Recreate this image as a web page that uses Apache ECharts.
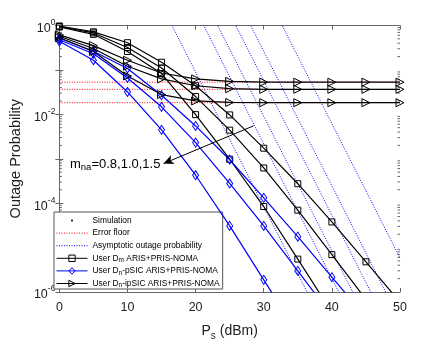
<!DOCTYPE html>
<html>
<head>
<meta charset="utf-8">
<script src="https://cdn.jsdelivr.net/npm/echarts@6/dist/echarts.min.js"></script>
<style>
  html, body { margin: 0; padding: 0; background: #fff; }
  #main { width: 443px; height: 346px; }
</style>
</head>
<body>
<div id="main"></div>
<script>
// transmit power P_s (dBm)
var ps = [0, 5, 10, 15, 20, 25, 30, 35, 40, 45, 50];

// user D_m, ARIS+PRIS-NOMA (m_na = 0.8, 1.0, 1.5)
var dm08 = [0.975, 0.72, 0.41, 0.149, 0.044, 0.0097, 0.00173, 2.74e-4, 3.78e-5, 4.78e-6, 5.9e-7];
var dm10 = [0.95, 0.68, 0.319, 0.11, 0.0251, 0.0044, 6.2e-4, 6.95e-5, 6.95e-6, 6.8e-7, 6.6e-8];
var dm15 = [0.927, 0.633, 0.26, 0.083, 0.00984, 9.75e-4, 8.4e-5, 5.5e-6, 3.5e-7, 2e-8, 1e-9];

// user D_n with pSIC
var dnp08 = [0.522, 0.264, 0.108, 0.0269, 0.00548, 9.5e-4, 1.32e-4, 1.76e-5, 2.16e-6, 2.7e-7, 3e-8];
var dnp10 = [0.479, 0.232, 0.066, 0.01476, 0.00231, 2.78e-4, 3.08e-5, 2.98e-6, 2.9e-7, 2.8e-8, 2.7e-9];
var dnp15 = [0.44, 0.165, 0.0319, 0.00448, 4.26e-4, 3.08e-5, 1.88e-6, 1.15e-7, 7e-9, 4e-10, 2.5e-11];

// user D_n with ipSIC
var dni08 = [0.617, 0.353, 0.165, 0.0851, 0.0628, 0.0553, 0.0531, 0.053, 0.053, 0.053, 0.053];
var dni10 = [0.572, 0.303, 0.121, 0.0628, 0.044, 0.0378, 0.0365, 0.0365, 0.0365, 0.0365, 0.0365];
var dni15 = [0.53, 0.26, 0.0731, 0.0279, 0.02, 0.0185, 0.0183, 0.0183, 0.0183, 0.0183, 0.0183];

// error floors of the ipSIC curves
var floorX = [0, 50];
var floors = [0.053, 0.0365, 0.0183];

// asymptotic outage probability, straight lines given at two powers
var asymX = [15, 50];
var asym = [
  [2.9, 7.4e-11],
  [75, 1.9e-9],
  [312, 7.9e-9],
  [1990, 5e-8],
  [9160, 2.3e-7],
  [2.29e5, 5.8e-6]
];

// annotation arrow, from / to (P_s, probability)
var arrowFrom = [28.5, 5.5e-3];
var arrowTo = [15.3, 7.8e-4];

var FONT = "'Liberation Sans', Arial, Helvetica, sans-serif";
var AXIS = "#666";
var TXT = "#222";

function pairs(xs, ys) {
  return xs.map(function (x, i) { return [x, ys[i]]; });
}

var chart = echarts.init(document.getElementById("main"), null, { renderer: "canvas" });

var series = [];

floors.forEach(function (f) {
  series.push({
    name: "Error floor",
    type: "line",
    data: pairs(floorX, [f, f]),
    symbol: "none",
    lineStyle: { color: "#ff0000", width: 1, type: [1, 1.5] },
    itemStyle: { color: "#ff0000" },
    z: 2
  });
});

asym.forEach(function (a) {
  series.push({
    name: "Asymptotic outage probability",
    type: "line",
    data: pairs(asymX, a),
    symbol: "none",
    lineStyle: { color: "#0000ff", width: 1, type: [1, 1.5] },
    itemStyle: { color: "#0000ff" },
    z: 2
  });
});

[dm08, dm10, dm15].forEach(function (d) {
  series.push({
    name: "dm",
    type: "line",
    data: pairs(ps, d),
    symbol: "rect",
    symbolSize: 6,
    lineStyle: { color: "#000", width: 1.2 },
    itemStyle: { color: "rgba(0,0,0,0)", borderColor: "#000", borderWidth: 1 },
    z: 4
  });
});

[dnp08, dnp10, dnp15].forEach(function (d) {
  series.push({
    name: "dnp",
    type: "line",
    data: pairs(ps, d),
    symbol: "diamond",
    symbolSize: [6, 9],
    lineStyle: { color: "#0000ff", width: 1.2 },
    itemStyle: { color: "rgba(0,0,0,0)", borderColor: "#0000ff", borderWidth: 1 },
    z: 4
  });
});

[dni08, dni10, dni15].forEach(function (d) {
  series.push({
    name: "dni",
    type: "line",
    data: pairs(ps, d),
    symbol: "triangle",
    symbolRotate: -90,
    symbolSize: [8, 8],
    lineStyle: { color: "#000", width: 1.2 },
    itemStyle: { color: "rgba(0,0,0,0)", borderColor: "#000", borderWidth: 1 },
    z: 4
  });
});

// dummy entry for the simulation dot in the legend
series.push({
  name: "Simulation",
  type: "scatter",
  data: [],
  symbol: "circle",
  symbolSize: 3,
  itemStyle: { color: "#000" }
});

// arrow for the m_na annotation
series[6].markLine = {
  silent: true,
  symbol: ["none", "arrow"],
  symbolSize: [7, 10],
  label: { show: false },
  lineStyle: { color: "#000", width: 1, type: "solid" },
  data: [[{ coord: arrowFrom }, { coord: arrowTo }]]
};

var legendNames = {
  dm: "{t|User D}{s|m}{t| ARIS+PRIS-NOMA}",
  dnp: "{t|User D}{s|n}{t|-pSIC ARIS+PRIS-NOMA}",
  dni: "{t|User D}{s|n}{t|-ipSIC ARIS+PRIS-NOMA}"
};

var markerItem = function (c) {
  return {
    itemStyle: { color: "rgba(0,0,0,0)", borderColor: c, borderWidth: 1 },
    lineStyle: { color: c, width: 1, type: "solid" }
  };
};

chart.setOption({
  animation: false,
  backgroundColor: "#fff",
  grid: { left: 57, right: 43, top: 25.5, bottom: 48.5 },
  xAxis: [
    {
      type: "value",
      min: 0, max: 50, interval: 10,
      name: "{p|P}{s|s}{n| (dBm)}",
      nameLocation: "middle",
      nameGap: 30,
      nameTextStyle: {
        rich: {
          p: { fontSize: 14, fontFamily: FONT, color: TXT },
          s: { fontSize: 10, fontFamily: FONT, color: TXT, padding: [9, 0, 0, 0] },
          n: { fontSize: 14, fontFamily: FONT, color: TXT }
        }
      },
      axisLine: { lineStyle: { color: AXIS, width: 1 } },
      axisTick: { inside: true, length: 4, lineStyle: { color: AXIS } },
      axisLabel: { margin: 9, fontSize: 12.5, fontFamily: FONT, color: TXT },
      splitLine: { show: false }
    },
    {
      type: "value", position: "top",
      min: 0, max: 50, interval: 10,
      axisLine: { show: true, lineStyle: { color: AXIS, width: 1 } },
      axisTick: { inside: true, length: 4, lineStyle: { color: AXIS } },
      axisLabel: { show: false },
      splitLine: { show: false }
    }
  ],
  yAxis: [
    {
      type: "log", logBase: 10,
      min: 1e-6, max: 1,
      name: "Outage Probability",
      nameLocation: "middle",
      nameRotate: 90,
      nameGap: 27,
      nameTextStyle: { fontSize: 14.5, fontFamily: FONT, color: TXT },
      axisLine: { show: true, lineStyle: { color: AXIS, width: 1 } },
      axisTick: { inside: true, length: 4, lineStyle: { color: AXIS } },
      axisLabel: {
        margin: 4,
        formatter: function (v) {
          var e = Math.round(Math.log10(v));
          if (e % 2 !== 0) return "";
          return "{b|10}{e|" + e + "}";
        },
        rich: {
          b: { fontSize: 12.5, fontFamily: FONT, color: TXT, padding: [6, 0, 0, 0] },
          e: { fontSize: 8.5, fontFamily: FONT, color: TXT, padding: [0, 0, 6, 0] }
        }
      },
      splitLine: { show: false }
    },
    {
      type: "log", logBase: 10, position: "right",
      min: 1e-6, max: 1,
      axisLine: { show: true, lineStyle: { color: AXIS, width: 1 } },
      axisTick: { inside: true, length: 4, lineStyle: { color: AXIS } },
      axisLabel: { show: false },
      splitLine: { show: false }
    }
  ],
  legend: {
    orient: "vertical",
    left: 54, top: 212,
    itemWidth: 31, itemHeight: 8, itemGap: 1.6,
    padding: [3, 3, 0, 2],
    backgroundColor: "#fff",
    borderColor: "#555", borderWidth: 1, borderRadius: 0,
    selectedMode: false,
    textStyle: {
      fontSize: 8.4, fontFamily: FONT, color: "#000", lineHeight: 11,
      rich: {
        t: { fontSize: 8.4, fontFamily: FONT, color: "#000", lineHeight: 11 },
        s: { fontSize: 6.5, fontFamily: FONT, color: "#000", lineHeight: 7, verticalAlign: "bottom" }
      }
    },
    formatter: function (name) { return legendNames[name] || name; },
    data: [
      { name: "Simulation", icon: "path://M0,-4M31,4M14.5,-1L16.5,-1L16.5,1L14.5,1Z",
        itemStyle: { color: "#000", borderWidth: 0 } },
      { name: "Error floor", itemStyle: { opacity: 0 },
        lineStyle: { color: "#ff0000", width: 1, type: [1, 1.5] } },
      { name: "Asymptotic outage probability", itemStyle: { opacity: 0 },
        lineStyle: { color: "#0000ff", width: 1, type: [1, 1.5] } },
      Object.assign({ name: "dm" }, markerItem("#000")),
      Object.assign({ name: "dnp" }, markerItem("#0000ff")),
      Object.assign({ name: "dni" }, markerItem("#000"))
    ]
  },
  graphic: [
    {
      type: "text",
      left: 70, top: 158,
      style: {
        text: "{m|m}{s|na}{m|=0.8,1.0,1.5}",
        rich: {
          m: { fontSize: 13, fontFamily: FONT, fill: "#000", lineHeight: 15 },
          s: { fontSize: 9.5, fontFamily: FONT, fill: "#000", lineHeight: 9, verticalAlign: "bottom" }
        }
      }
    }
  ],
  series: series
});

// minor ticks of the log axis (2..9 of each decade), placed through the axis scale
var minor = [];
var xl = chart.convertToPixel({ xAxisIndex: 0 }, 0);
var xr = chart.convertToPixel({ xAxisIndex: 0 }, 50);
for (var k = -6; k < 0; k++) {
  for (var m = 2; m <= 9; m++) {
    var y = chart.convertToPixel({ yAxisIndex: 0 }, m * Math.pow(10, k));
    minor.push({ type: "line", shape: { x1: xl, y1: y, x2: xl + 2.5, y2: y }, style: { stroke: AXIS, lineWidth: 1 }, silent: true });
    minor.push({ type: "line", shape: { x1: xr, y1: y, x2: xr - 2.5, y2: y }, style: { stroke: AXIS, lineWidth: 1 }, silent: true });
  }
}
var g = chart.getOption().graphic[0].elements.slice();
chart.setOption({ graphic: g.concat(minor) });
</script>
</body>
</html>
